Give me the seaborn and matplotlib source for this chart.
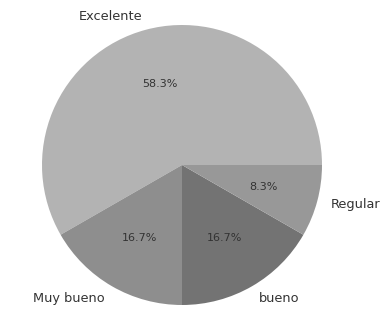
import matplotlib
matplotlib.use("Agg")
import matplotlib.pyplot as plt
import seaborn as sns

sns.set_theme(style="white")
plt.rcParams['font.family'] = ['DejaVu Sans']

categories = ["Excelente", "Muy bueno", "bueno", "Regular"]
values = [58.3, 16.7, 16.7, 8.3]
colors = ["#b3b3b3", "#8e8e8e", "#737373", "#989898"]

fig = plt.figure(figsize=(3.87, 3.2), dpi=100)
W, H = 387, 320
cx, cy, r = 182, 320 - 165, 140
half = 1.25 * r
ax = fig.add_axes([(cx - half) / W, (cy - half) / H, 2 * half / W, 2 * half / H])
wedges, texts, autotexts = ax.pie(
    values, labels=categories, colors=colors, autopct="%1.1f%%",
    startangle=0, counterclock=True, labeldistance=1.1, pctdistance=0.6,
    wedgeprops={"linewidth": 0, "edgecolor": "none"},
    textprops={"fontsize": 9.3, "color": "#333333"},
)
for t in autotexts:
    t.set_fontsize(8)
    t.set_color("#333333")
ax.set_xlim(-1.25, 1.25)
ax.set_ylim(-1.25, 1.25)
ax.set_aspect("equal")
ax.axis("off")
fig.savefig("out.png", dpi=100, facecolor="white")
